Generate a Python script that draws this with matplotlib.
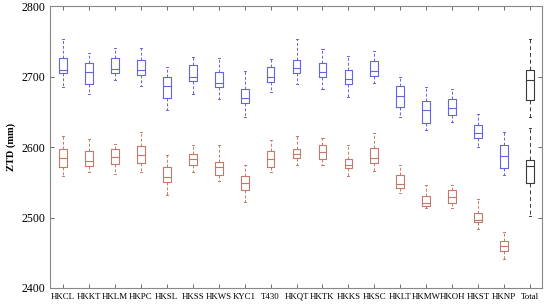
import numpy as np
import matplotlib
matplotlib.use('Agg')
import matplotlib.pyplot as plt

plt.rcParams['font.family'] = ['Liberation Serif', 'DejaVu Serif']

stations = ['HKCL', 'HKKT', 'HKLM', 'HKPC', 'HKSL', 'HKSS', 'HKWS', 'KYC1', 'T430',
            'HKQT', 'HKTK', 'HKKS', 'HKSC', 'HKLT', 'HKMW', 'HKOH', 'HKST', 'HKNP', 'Total']

# upper group (blue, Total in black)
up_whishi = [2754, 2733, 2741, 2741, 2714, 2728, 2727, 2708, 2725, 2753, 2739, 2729, 2736,
             2699, 2685, 2682, 2647, 2621, 2754]
up_q3 = [2727, 2720, 2727, 2723, 2700, 2716, 2707, 2683, 2713, 2724, 2719, 2709, 2722,
         2687, 2666, 2668, 2631, 2603, 2710]
up_med = [2710, 2707, 2711, 2709, 2686, 2700, 2691, 2670, 2699, 2712, 2706, 2697, 2708,
          2672, 2652, 2655, 2620, 2587, 2695]
up_q1 = [2705, 2690, 2705, 2702, 2669, 2694, 2685, 2662, 2693, 2705, 2700, 2689, 2701,
         2657, 2634, 2645, 2613, 2570, 2667]
up_whislo = [2685, 2675, 2695, 2686, 2653, 2675, 2668, 2643, 2678, 2689, 2682, 2671, 2691,
             2643, 2624, 2636, 2600, 2561, 2643]

# lower group (red, Total in black)
lo_whishi = [2616, 2611, 2605, 2622, 2589, 2603, 2603, 2574, 2610, 2616, 2613, 2603, 2620,
             2574, 2546, 2546, 2526, 2480, 2627]
lo_q3 = [2597, 2595, 2597, 2601, 2572, 2590, 2579, 2559, 2594, 2597, 2603, 2583, 2598,
         2561, 2530, 2539, 2507, 2466, 2581]
lo_med = [2584, 2580, 2586, 2589, 2558, 2583, 2572, 2549, 2583, 2590, 2593, 2575, 2585,
          2547, 2521, 2529, 2497, 2460, 2573]
lo_q1 = [2571, 2573, 2576, 2578, 2551, 2575, 2561, 2539, 2572, 2584, 2583, 2570, 2578,
         2542, 2516, 2520, 2493, 2453, 2549]
lo_whislo = [2559, 2565, 2562, 2565, 2532, 2564, 2552, 2522, 2564, 2574, 2575, 2559, 2566,
             2535, 2513, 2513, 2483, 2441, 2502]

blue = '#6464e6'
red = '#c47a68'


def make_stats(whislo, q1, med, q3, whishi):
    return [dict(whislo=a, q1=b, med=c, q3=d, whishi=e, fliers=[])
            for a, b, c, d, e in zip(whislo, q1, med, q3, whishi)]


fig, ax = plt.subplots(figsize=(5.5, 3.07), dpi=100)
fig.subplots_adjust(left=0.091, right=0.985, bottom=0.062, top=0.98)

pos = np.arange(1, len(stations) + 1)
groups = [(make_stats(up_whislo, up_q1, up_med, up_q3, up_whishi), blue),
          (make_stats(lo_whislo, lo_q1, lo_med, lo_q3, lo_whishi), red)]

for stats, col in groups:
    for i, st in enumerate(stats):
        total = stations[i] == 'Total'
        c = '#3a3a3a' if total else col
        dash = (0, (4, 3)) if total else (0, (3, 2))
        ax.bxp([st], positions=[pos[i]], widths=0.3, capwidths=0.08, showfliers=False,
               boxprops=dict(color=c, lw=0.8),
               medianprops=dict(color=c, lw=0.8),
               whiskerprops=dict(color=c, lw=0.7, linestyle=dash),
               capprops=dict(color=c, lw=0.7))

ax.set_xlim(0.5, 19.45)
ax.set_ylim(2400, 2800)
ax.set_yticks([2400, 2500, 2600, 2700, 2800])
ax.set_xticks(pos)
ax.set_xticklabels(stations, fontsize=6.4)
ax.tick_params(axis='y', labelsize=8.5)
ax.tick_params(direction='in', top=True, right=True, length=3, width=0.6, color='#555555')
ax.set_ylabel('ZTD (mm)', fontsize=7.5, fontweight='bold', labelpad=4)
for s in ax.spines.values():
    s.set_color('#888888')
    s.set_linewidth(0.8)

fig.savefig('out.png', dpi=100)
